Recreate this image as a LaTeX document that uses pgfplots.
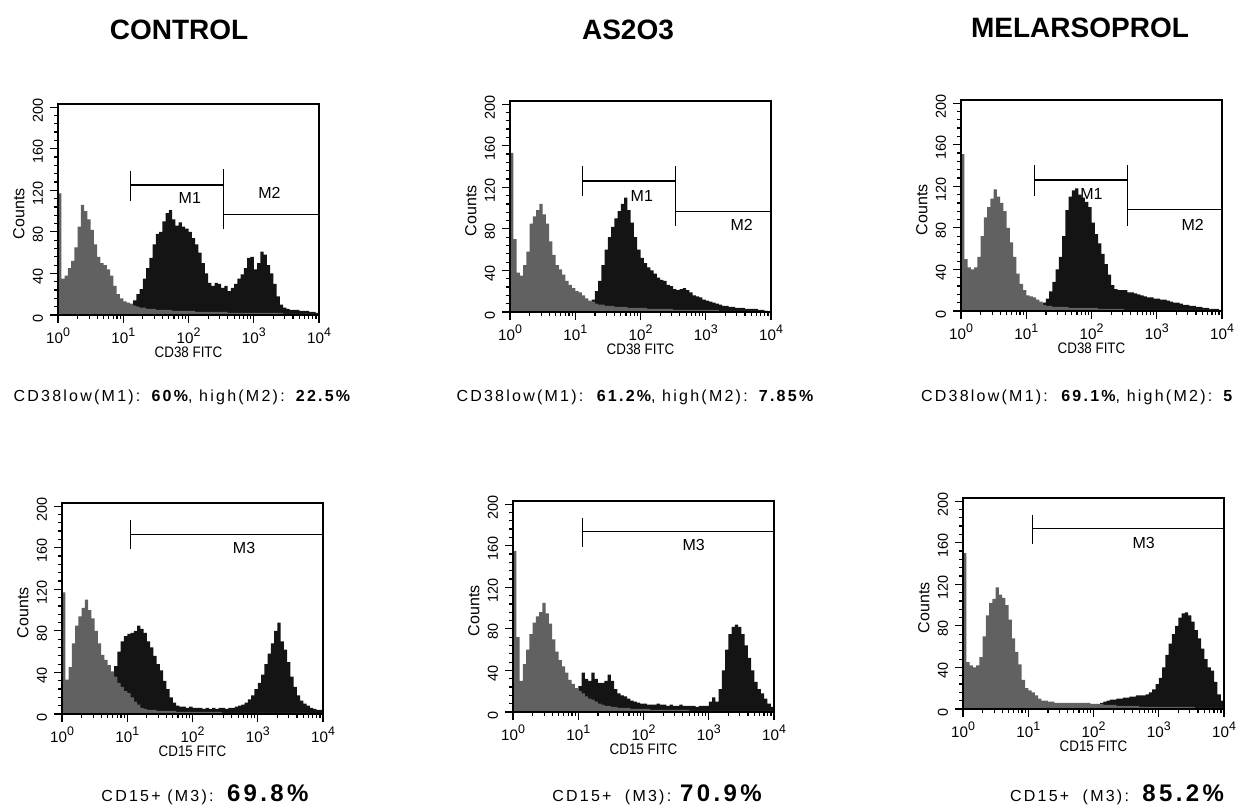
\documentclass[border=0pt]{standalone}
\usepackage{fontspec}
\setmainfont{Liberation Sans}
\newfontfamily\narrowfont[FakeStretch=0.88]{Liberation Sans}
\newfontfamily\spacedfont[LetterSpace=14]{Liberation Sans}
\usepackage{pgfplots}
\usepackage{pgfplotstable}
\pgfplotsset{compat=1.18}

% x = log10(fluorescence); ag/bg/cg... = isotype (grey), ab/bb/cb... = stained (black)
\pgfplotstableread{
x ag ab bg bb cg cb
0.00 117 0 153 0 151 0
0.05 35 0 70 0 50 0
0.10 38 0 38 0 42 0
0.15 45 0 35 0 40 0
0.20 52 0 45 0 42 0
0.25 65 0 58 0 52 0
0.30 85 0 85 0 72 0
0.35 106 0 92 0 90 0
0.40 100 0 98 0 100 0
0.45 92 0 104 0 108 0
0.50 82 0 94 0 117 0
0.55 68 0 85 0 110 0
0.60 56 0 68 0 104 0
0.65 50 0 55 0 96 0
0.70 48 0 45 0 80 0
0.75 44 0 41 0 66 0
0.80 38 0 36 0 52 0
0.85 28 0 30 0 36 0
0.90 20 0 26 0 26 0
0.95 16 0 23 0 20 0
1.00 13 0 20 0 15 0
1.05 12 0 19 0 14 0
1.10 11 10 16 0 13 0
1.15 9 14 13 0 11 0
1.20 8 20 11 0 9 0
1.25 7 25 10 12 6 8
1.30 7 35 8 20 5 12
1.35 6 45 7 30 5 19
1.40 6 55 7 45 4 28
1.45 6 68 6 60 4 40
1.50 5 78 6 72 4 52
1.55 5 80 6 82 4 72
1.60 5 90 5 90 4 97
1.65 5 98 5 97 3 110
1.70 5 101 5 104 3 116
1.75 4 92 5 110 3 118
1.80 4 86 4 98 3 112
1.85 4 89 4 86 3 109
1.90 4 85 4 72 3 105
1.95 4 83 4 60 3 100
2.00 4 80 4 52 3 85
2.05 4 74 4 47 3 74
2.10 3 68 3 43 2 65
2.15 3 60 3 40 2 55
2.20 3 50 3 37 2 45
2.25 3 40 3 33 2 35
2.30 3 31 3 31 2 25
2.35 3 28 3 30 2 21
2.40 3 31 3 26 2 20
2.45 3 30 3 25 2 20
2.50 3 26 2 22 1 20
2.55 3 28 2 21 1 18
2.60 2 23 2 22 1 18
2.65 2 26 2 23 1 17
2.70 2 30 2 21 1 16
2.75 2 35 2 19 1 15
2.80 2 39 2 16 1 14
2.85 2 45 2 15 1 13
2.90 2 55 2 14 1 13
2.95 2 56 2 12 1 12
3.00 2 44 2 11 1 12
3.05 2 50 2 10 1 11
3.10 2 61 2 9 1 11
3.15 2 58 2 8 1 10
3.20 2 48 1 7 1 9
3.25 2 40 1 6 1 8
3.30 2 30 1 6 1 8
3.35 2 18 1 5 1 7
3.40 2 10 1 5 1 6
3.45 1 7 1 4 1 6
3.50 1 6 1 4 1 5
3.55 1 5 1 4 1 5
3.60 1 5 1 3 1 4
3.65 1 5 1 3 1 4
3.70 1 4 1 3 1 3
3.75 1 4 1 3 1 3
3.80 1 4 1 2 1 2
3.85 1 3 1 2 1 2
3.90 1 3 1 1 1 2
3.95 1 2 0 0 0 1
4.00 1 2 0 0 0 1
}\toprow

\pgfplotstableread{
x dg db eg eb fg fb
0.00 117 0 155 0 150 0
0.05 33 0 72 0 45 0
0.10 45 0 30 0 42 0
0.15 68 0 46 0 40 0
0.20 85 0 60 0 42 0
0.25 94 0 75 0 50 0
0.30 102 0 86 0 70 0
0.35 110 0 92 0 90 0
0.40 100 0 96 0 102 0
0.45 92 0 105 0 106 0
0.50 80 0 95 0 117 0
0.55 68 0 85 0 110 0
0.60 57 0 70 0 107 0
0.65 52 0 58 0 100 0
0.70 47 0 50 0 86 0
0.75 41 40 44 0 68 0
0.80 36 46 38 0 55 0
0.85 30 60 31 0 43 0
0.90 26 70 27 0 28 0
0.95 22 75 23 0 20 0
1.00 20 77 20 25 18 0
1.05 16 78 18 38 16 0
1.10 12 80 15 32 13 0
1.15 9 85 13 30 10 0
1.20 6 82 12 38 8 0
1.25 5 78 10 32 8 0
1.30 4 70 8 28 7 0
1.35 4 64 7 28 7 0
1.40 4 56 6 30 6 0
1.45 3 48 6 36 6 0
1.50 3 42 5 30 6 0
1.55 3 32 5 22 6 0
1.60 3 24 4 18 6 0
1.65 3 16 4 16 6 0
1.70 3 11 4 15 6 0
1.75 2 8 4 13 6 0
1.80 2 7 3 11 6 0
1.85 2 7 3 10 6 0
1.90 2 6 3 9 6 0
1.95 2 7 3 8 5 0
2.00 2 6 3 8 5 0
2.05 2 6 3 7 5 0
2.10 2 6 2 7 5 6
2.15 2 5 2 7 4 7
2.20 2 6 2 8 4 8
2.25 2 5 2 7 4 9
2.30 2 6 2 7 4 9
2.35 2 5 2 6 3 10
2.40 2 6 2 7 3 10
2.45 1 6 2 6 3 11
2.50 1 5 2 6 3 11
2.55 1 6 2 7 3 12
2.60 1 6 2 6 3 12
2.65 1 7 2 6 3 13
2.70 1 8 1 6 2 13
2.75 1 9 1 6 2 13
2.80 1 11 1 5 2 14
2.85 1 14 1 6 2 16
2.90 1 18 1 6 2 19
2.95 1 24 1 6 2 24
3.00 1 30 1 10 2 30
3.05 1 38 1 14 2 40
3.10 1 48 1 10 2 52
3.15 1 58 1 22 2 63
3.20 1 68 1 40 2 72
3.25 1 80 1 60 2 80
3.30 1 88 1 75 2 88
3.35 1 70 1 82 2 92
3.40 1 62 1 84 2 93
3.45 1 50 1 82 2 90
3.50 1 36 1 75 2 84
3.55 1 26 1 64 1 76
3.60 1 18 1 52 1 68
3.65 1 13 1 40 1 58
3.70 1 10 1 29 1 48
3.75 1 8 1 22 1 40
3.80 0 6 1 18 1 37
3.85 0 5 1 13 1 26
3.90 0 4 1 8 1 14
3.95 0 4 0 5 1 8
4.00 0 4 0 3 1 8
}\botrow

\definecolor{isogray}{gray}{0.38}
\definecolor{stain}{gray}{0.08}

\newcommand{\dec}[1]{10\raisebox{0.85ex}{\fontsize{6.2}{6.2}\selectfont #1}}

\pgfplotsset{
  facs/.style={
    scale only axis, width=130.5pt, height=105.5pt,
    xmin=0, xmax=4, ymin=0, ymax=203,
    axis on top, clip=false,
    xtick={0,1,2,3,4},
    xticklabels={\dec{0},\dec{1},\dec{2},\dec{3},\dec{4}},
    minor xtick={0.301,0.477,0.602,0.699,0.778,0.845,0.903,0.954,
      1.301,1.477,1.602,1.699,1.778,1.845,1.903,1.954,
      2.301,2.477,2.602,2.699,2.778,2.845,2.903,2.954,
      3.301,3.477,3.602,3.699,3.778,3.845,3.903,3.954},
    ytick={0,40,80,120,160,200},
    yticklabels={0,40,80,120,160,200},
    minor ytick={8,16,24,32,48,56,64,72,88,96,104,112,128,136,144,152,168,176,184,192},
    tick align=outside, tick pos=left,
    major tick length=4pt, minor tick length=2pt,
    tick style={black, line width=0.6pt},
    axis line style={line width=0.6pt},
    yticklabel style={rotate=90, anchor=south, xshift=-1.5pt,
      font=\fontsize{7.2}{8}\selectfont},
    xticklabel style={font=\fontsize{7.6}{8}\selectfont, yshift=1pt},
    ylabel={Counts},
    every axis y label/.style={at={(axis description cs:-0.15,0.48)}, rotate=90,
      anchor=center, font=\fontsize{8}{9}\selectfont},
    every axis x label/.style={at={(axis description cs:0.5,-0.178)}, anchor=center,
      font=\narrowfont\fontsize{7.6}{8}\selectfont},
  },
  iso/.style={const plot, fill=isogray, draw=none},
  pos/.style={const plot, fill=stain, draw=none},
}
\tikzset{gate/.style={line width=0.6pt}, mlab/.style={font=\fontsize{8}{9}\selectfont}}

\begin{document}
\begin{tikzpicture}
\useasboundingbox (0,0) rectangle (622.5pt,-404pt);

% ---------- top row: CD38 ----------
\begin{axis}[facs, at={(29pt,-157.5pt)}, anchor=south west, xlabel={CD38 FITC}]
  \addplot[pos] table[x=x,y=ab]{\toprow} \closedcycle;
  \addplot[iso] table[x=x,y=ag]{\toprow} \closedcycle;
  \draw[gate] (axis cs:1.115,110) -- (axis cs:1.115,139);
  \draw[gate] (axis cs:1.115,125) -- (axis cs:2.54,125);
  \draw[gate] (axis cs:2.54,140) -- (axis cs:2.54,83);
  \draw[gate] (axis cs:2.54,97) -- (axis cs:4,97);
  \node[mlab] at (axis cs:2.02,113) {M1};
  \node[mlab] at (axis cs:3.24,117) {M2};
\end{axis}

\begin{axis}[facs, at={(255pt,-156pt)}, anchor=south west, xlabel={CD38 FITC}]
  \addplot[pos] table[x=x,y=bb]{\toprow} \closedcycle;
  \addplot[iso] table[x=x,y=bg]{\toprow} \closedcycle;
  \draw[gate] (axis cs:1.11,112) -- (axis cs:1.11,140);
  \draw[gate] (axis cs:1.11,126) -- (axis cs:2.54,126);
  \draw[gate] (axis cs:2.54,140) -- (axis cs:2.54,83);
  \draw[gate] (axis cs:2.54,97) -- (axis cs:4,97);
  \node[mlab] at (axis cs:2.02,112) {M1};
  \node[mlab] at (axis cs:3.55,84) {M2};
\end{axis}

\begin{axis}[facs, at={(480.5pt,-155.5pt)}, anchor=south west, xlabel={CD38 FITC}]
  \addplot[pos] table[x=x,y=cb]{\toprow} \closedcycle;
  \addplot[iso] table[x=x,y=cg]{\toprow} \closedcycle;
  \draw[gate] (axis cs:1.12,111) -- (axis cs:1.12,140);
  \draw[gate] (axis cs:1.12,126) -- (axis cs:2.55,126);
  \draw[gate] (axis cs:2.55,140) -- (axis cs:2.55,82);
  \draw[gate] (axis cs:2.55,98) -- (axis cs:4,98);
  \node[mlab] at (axis cs:2.0,113) {M1};
  \node[mlab] at (axis cs:3.55,83) {M2};
\end{axis}

% ---------- bottom row: CD15 ----------
\begin{axis}[facs, at={(31pt,-357pt)}, anchor=south west, xlabel={CD15 FITC}]
  \addplot[pos] table[x=x,y=db]{\botrow} \closedcycle;
  \addplot[iso] table[x=x,y=dg]{\botrow} \closedcycle;
  \draw[gate] (axis cs:1.05,159) -- (axis cs:1.05,187);
  \draw[gate] (axis cs:1.05,173) -- (axis cs:4,173);
  \node[mlab] at (axis cs:2.79,160) {M3};
\end{axis}

\begin{axis}[facs, at={(256.5pt,-356pt)}, anchor=south west, xlabel={CD15 FITC}]
  \addplot[pos] table[x=x,y=eb]{\botrow} \closedcycle;
  \addplot[iso] table[x=x,y=eg]{\botrow} \closedcycle;
  \draw[gate] (axis cs:1.07,159) -- (axis cs:1.07,187);
  \draw[gate] (axis cs:1.07,174) -- (axis cs:4,174);
  \node[mlab] at (axis cs:2.77,161) {M3};
\end{axis}

\begin{axis}[facs, at={(481.5pt,-354.5pt)}, anchor=south west, xlabel={CD15 FITC}]
  \addplot[pos] table[x=x,y=fb]{\botrow} \closedcycle;
  \addplot[iso] table[x=x,y=fg]{\botrow} \closedcycle;
  \draw[gate] (axis cs:1.07,159) -- (axis cs:1.07,187);
  \draw[gate] (axis cs:1.07,174) -- (axis cs:4,174);
  \node[mlab] at (axis cs:2.77,160) {M3};
\end{axis}

% ---------- titles and summary lines ----------
\node[font=\fontsize{14}{16}\selectfont\bfseries] at (89.5pt,-15pt) {CONTROL};
\node[font=\fontsize{14}{16}\selectfont\bfseries] at (314pt,-15pt) {AS2O3};
\node[font=\fontsize{14}{16}\selectfont\bfseries] at (540pt,-14pt) {MELARSOPROL};

\node[font=\spacedfont\fontsize{8}{9}\selectfont] at (91.5pt,-198.5pt)
  {CD38low(M1): \textbf{60\%}, high(M2): \textbf{22.5\%}};
\node[font=\spacedfont\fontsize{8}{9}\selectfont] at (318pt,-198.5pt)
  {CD38low(M1):\ \ \textbf{61.2\%}, high(M2): \textbf{7.85\%}};
\node[font=\spacedfont\fontsize{8}{9}\selectfont, anchor=west] at (457pt,-198.5pt)
  {CD38low(M1):\ \ \textbf{69.1\%}, high(M2): \textbf{5}};

\node[font=\spacedfont\fontsize{8}{9}\selectfont] at (102.5pt,-397.5pt)
  {CD15+ (M3):\ \ {\fontsize{12}{14}\selectfont\bfseries 69.8\%}};
\node[font=\spacedfont\fontsize{8}{9}\selectfont] at (328.5pt,-397.5pt)
  {CD15+\ \ (M3): {\fontsize{12}{14}\selectfont\bfseries 70.9\%}};
\node[font=\spacedfont\fontsize{8}{9}\selectfont] at (558.5pt,-397.5pt)
  {CD15+\ \ (M3):\ \ {\fontsize{12}{14}\selectfont\bfseries 85.2\%}};
\end{tikzpicture}
\end{document}
